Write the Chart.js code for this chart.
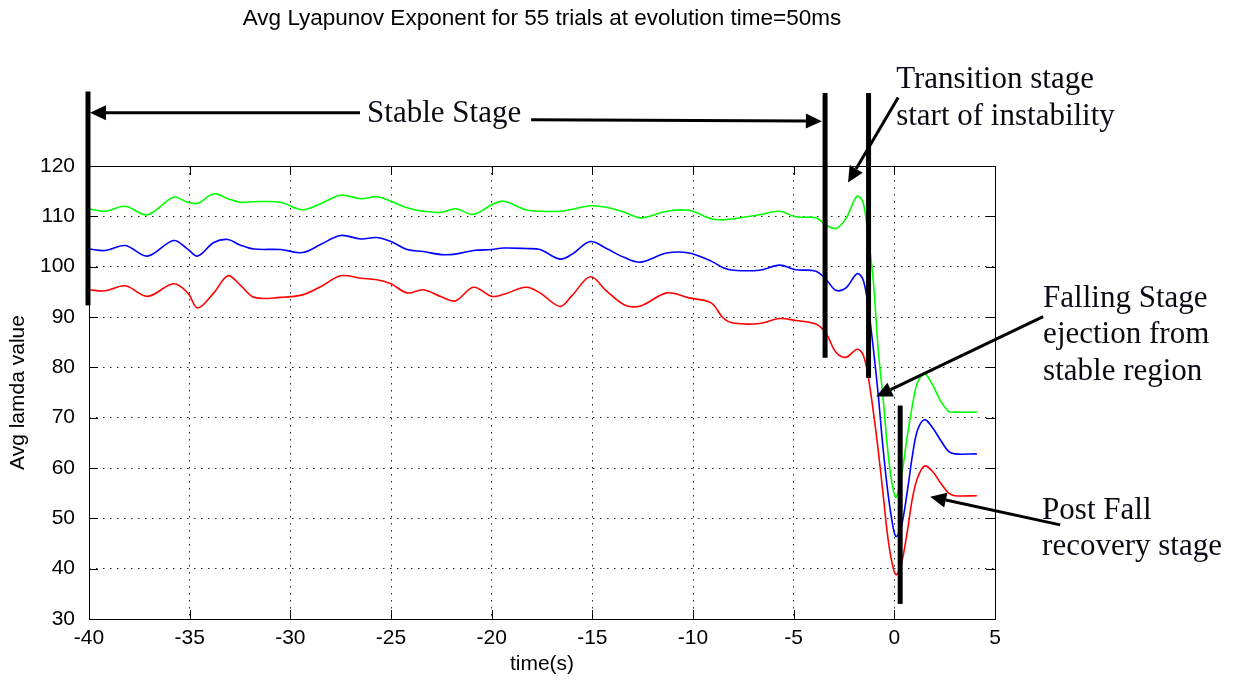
<!DOCTYPE html>
<html>
<head>
<meta charset="utf-8">
<title>Avg Lyapunov Exponent</title>
<script src="https://cdn.jsdelivr.net/npm/chart.js@4.4.1/dist/chart.umd.min.js"></script>
<style>
    html, body { margin: 0; padding: 0; background: #fff; }
    canvas { display: block; }
</style>
</head>
<body>
<canvas id="lyapunovChart" width="1239" height="683"></canvas>
<script>
// time axis (s) shared by the three curves
const times = [
    -40, -39.2, -38.2, -37.1, -35.8, -35.1, -34.6, -33.8, -33.1, -32.5,
    -31.8, -30.5, -29.4, -28.5, -27.5, -26.5, -25.7, -25.0, -24.2, -23.4,
    -22.5, -21.8, -20.9, -20.0, -19.4, -18.3, -17.6, -16.6, -16.0, -15.1,
    -14.3, -13.4, -12.6, -11.3, -10.2, -9.1, -8.5, -8.0, -6.7, -5.7,
    -4.9, -3.9, -3.4, -2.9, -2.4, -1.85, -1.55, -1.3, -1.05, -0.8,
    -0.55, -0.3, -0.05, 0.1, 0.35, 0.65, 0.9, 1.15, 1.5, 1.9,
    2.3, 2.7, 3.0, 4.1
];

const greenValues = [
    111.5, 111.0, 112.0, 110.3, 113.8, 112.8, 112.6, 114.5, 113.5, 112.8,
    112.9, 112.8, 111.3, 112.5, 114.2, 113.5, 113.9, 113.0, 111.7, 111.0,
    110.8, 111.5, 110.4, 112.3, 113.0, 111.3, 111.0, 111.0, 111.4, 112.1,
    111.8, 110.8, 109.7, 111.0, 111.2, 109.5, 109.3, 109.5, 110.3, 111.0,
    109.9, 109.7, 108.3, 107.6, 109.6, 114.0, 112.7, 106.0, 97.4, 83.5,
    73.5, 62.5, 55.5, 54.2, 58.3, 66.5, 72.5, 77.0, 78.7, 76.5,
    73.3, 71.2, 71.1, 71.1
];

const blueValues = [
    103.5, 103.2, 104.2, 102.1, 105.2, 103.5, 102.1, 104.8, 105.4, 104.3,
    103.5, 103.4, 102.8, 104.4, 106.2, 105.5, 105.8, 105.0, 103.4, 103.0,
    102.4, 102.5, 103.2, 103.4, 103.7, 103.6, 103.4, 101.5, 102.5, 105.0,
    103.6, 101.8, 100.9, 102.7, 102.7, 101.1, 99.8, 99.3, 99.3, 100.3,
    99.4, 99.1, 97.5, 95.3, 95.8, 98.6, 97.4, 92.0, 84.0, 74.5,
    63.5, 54.5, 48.0, 46.4, 48.4, 55.5, 62.5, 67.5, 69.6, 68.0,
    65.5, 63.3, 62.8, 62.8
];

const redValues = [
    95.4, 95.2, 96.2, 94.1, 96.6, 94.8, 91.8, 94.8, 98.2, 96.4,
    93.9, 93.9, 94.4, 96.0, 98.2, 97.7, 97.4, 96.6, 94.8, 95.4,
    94.0, 93.2, 95.9, 94.1, 94.5, 95.9, 94.8, 92.1, 94.3, 98.0,
    95.2, 92.4, 92.2, 94.8, 93.8, 92.8, 89.8, 88.8, 88.7, 89.7,
    89.3, 88.6, 86.8, 83.0, 82.0, 83.6, 82.5, 78.2, 71.4, 63.5,
    54.5, 45.5, 40.0, 38.8, 41.0, 47.5, 54.0, 58.0, 60.4, 59.3,
    57.0, 55.0, 54.5, 54.5
];

const xTickValues = [-40, -35, -30, -25, -20, -15, -10, -5, 0, 5];
const yTickValues = [30, 40, 50, 60, 70, 80, 90, 100, 110, 120];

// stage markers, in axis units (time, value)
const stageBars = [
    { t: -40.05, from: 92.3, to: 134.8 },
    { t: -3.44, from: 81.9, to: 134.5 },
    { t: -1.28, from: 77.9, to: 134.5 },
    { t: 0.29, from: 33.0, to: 72.4 }
];

const stageArrows = [
    { from: [-26.54, 130.6], to: [-39.95, 130.6] },
    { from: [-18.04, 129.2], to: [-3.6, 128.9] },
    { from: [0.19, 133.6], to: [-2.3, 116.7] },
    { from: [7.39, 90.06], to: [-0.9, 74.2] },
    { from: [8.24, 48.7], to: [1.78, 54.3] }
];

const stageLabels = [
    { t: -26.19, v: 128.8, text: 'Stable Stage' },
    { t: 0.09, v: 135.4, text: 'Transition stage' },
    { t: 0.09, v: 128.2, text: 'start of instability' },
    { t: 7.39, v: 92.05, text: 'Falling Stage' },
    { t: 7.39, v: 84.9, text: 'ejection from' },
    { t: 7.39, v: 77.5, text: 'stable region' },
    { t: 7.34, v: 49.9, text: 'Post Fall' },
    { t: 7.34, v: 42.7, text: 'recovery stage' }
];

function toPoints(values) {
    return values.map((v, i) => ({ x: times[i], y: v }));
}

function drawArrow(ctx, x1, y1, x2, y2) {
    const ang = Math.atan2(y2 - y1, x2 - x1);
    const len = 16, half = 7.5;
    const bx = x2 - len * Math.cos(ang);
    const by = y2 - len * Math.sin(ang);
    ctx.beginPath();
    ctx.moveTo(x1, y1);
    ctx.lineTo(bx, by);
    ctx.stroke();
    ctx.beginPath();
    ctx.moveTo(x2, y2);
    ctx.lineTo(bx + half * Math.sin(ang), by - half * Math.cos(ang));
    ctx.lineTo(bx - half * Math.sin(ang), by + half * Math.cos(ang));
    ctx.closePath();
    ctx.fill();
}

// box around the plot with inward tick marks, then the stage annotations
const boxAndStages = {
    id: 'boxAndStages',
    afterDraw(chart) {
        const ctx = chart.ctx;
        const { left, right, top, bottom } = chart.chartArea;
        const xs = chart.scales.x, ys = chart.scales.y;
        const tickLen = 9;

        ctx.save();
        ctx.strokeStyle = '#000';
        ctx.lineWidth = 1;
        ctx.strokeRect(Math.round(left) + 0.5, Math.round(top) + 0.5,
            Math.round(right - left), Math.round(bottom - top));

        ctx.beginPath();
        xs.ticks.forEach(tk => {
            const x = Math.round(xs.getPixelForValue(tk.value)) + 0.5;
            ctx.moveTo(x, bottom); ctx.lineTo(x, bottom - tickLen);
            ctx.moveTo(x, top); ctx.lineTo(x, top + tickLen);
        });
        ys.ticks.forEach(tk => {
            const y = Math.round(ys.getPixelForValue(tk.value)) + 0.5;
            ctx.moveTo(left, y); ctx.lineTo(left + tickLen, y);
            ctx.moveTo(right, y); ctx.lineTo(right - tickLen, y);
        });
        ctx.stroke();

        // thick stage separators
        ctx.fillStyle = '#000';
        stageBars.forEach(b => {
            const x = xs.getPixelForValue(b.t);
            const y1 = ys.getPixelForValue(b.to);
            const y2 = ys.getPixelForValue(b.from);
            ctx.fillRect(x - 2.5, y1, 5, y2 - y1);
        });

        ctx.lineWidth = 3;
        stageArrows.forEach(a => {
            drawArrow(ctx,
                xs.getPixelForValue(a.from[0]), ys.getPixelForValue(a.from[1]),
                xs.getPixelForValue(a.to[0]), ys.getPixelForValue(a.to[1]));
        });

        ctx.font = '31px "Liberation Serif", "Times New Roman", serif';
        ctx.textAlign = 'left';
        ctx.textBaseline = 'alphabetic';
        ctx.fillStyle = '#0a0a14';
        stageLabels.forEach(l => {
            const x = xs.getPixelForValue(l.t);
            const y = ys.getPixelForValue(l.v);
            ctx.fillText(l.text, x, y);
        });
        ctx.restore();
    }
};

const sansFont = { family: '"Liberation Sans", Arial, Helvetica, sans-serif', size: 21 };

new Chart(document.getElementById('lyapunovChart'), {
    type: 'line',
    data: {
        datasets: [
            { label: 'green', data: toPoints(greenValues), borderColor: '#00ff00' },
            { label: 'blue', data: toPoints(blueValues), borderColor: '#0000ff' },
            { label: 'red', data: toPoints(redValues), borderColor: '#ff0000' }
        ]
    },
    options: {
        responsive: false,
        animation: false,
        devicePixelRatio: 1,
        layout: { padding: { left: 0, right: 244, top: 0, bottom: 0 } },
        elements: {
            line: { borderWidth: 1.6, tension: 0.35, fill: false },
            point: { radius: 0 }
        },
        plugins: {
            legend: { display: false },
            tooltip: { enabled: false },
            title: {
                display: true,
                fullSize: false,
                text: 'Avg Lyapunov Exponent for 55 trials at evolution time=50ms',
                color: '#000',
                font: { family: sansFont.family, size: 22.5, weight: 'normal' },
                padding: { top: 5, bottom: 134 }
            }
        },
        scales: {
            x: {
                type: 'linear',
                min: xTickValues[0],
                max: xTickValues[xTickValues.length - 1],
                afterBuildTicks: s => { s.ticks = xTickValues.map(v => ({ value: v })); },
                afterFit: s => { s.height = 64; },
                ticks: { color: '#000', font: sansFont, padding: 7, maxRotation: 0 },
                grid: { color: '#222', lineWidth: 1, drawTicks: false },
                border: { display: false, dash: [1.5, 5.5] },
                title: { display: true, text: 'time(s)', color: '#000', font: sansFont, padding: { top: 0, bottom: 6 } }
            },
            y: {
                type: 'linear',
                min: yTickValues[0],
                max: yTickValues[yTickValues.length - 1],
                afterBuildTicks: s => { s.ticks = yTickValues.map(v => ({ value: v })); },
                afterFit: s => { s.width = 89; },
                ticks: { color: '#000', font: sansFont, padding: 14 },
                grid: { color: '#222', lineWidth: 1, drawTicks: false },
                border: { display: false, dash: [1.5, 5.5] },
                title: { display: true, text: 'Avg lamda value', color: '#000', font: sansFont, padding: { top: 6, bottom: 0 } }
            }
        }
    },
    plugins: [boxAndStages]
});
</script>
</body>
</html>
